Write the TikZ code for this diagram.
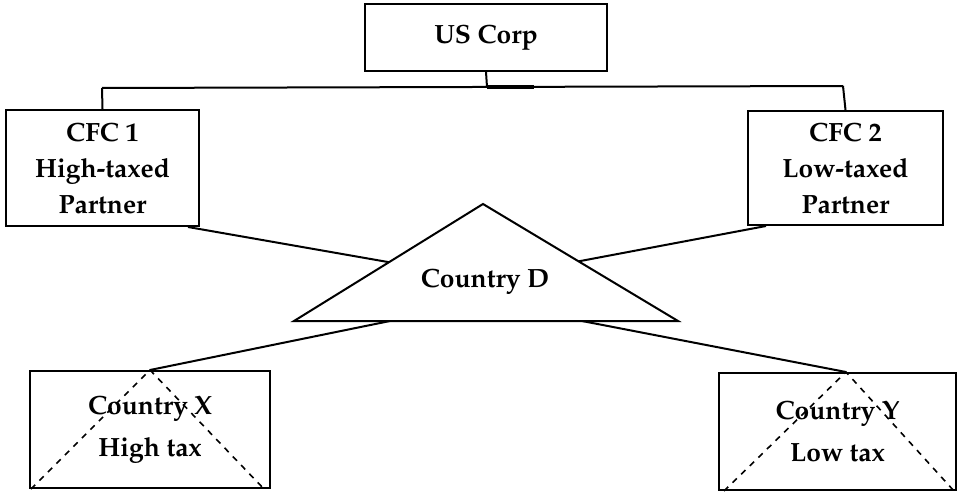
\documentclass[tikz,border=0pt]{standalone}
\usepackage[T1]{fontenc}
\usepackage{mathpazo}
\usetikzlibrary{positioning, calc, backgrounds}

\tikzset{
  entitybox/.style={rectangle, draw=black, line width=1pt, inner sep=0pt, align=center, font=\fontsize{13.2}{18}\selectfont\bfseries},
  countrybox/.style={entitybox, font=\fontsize{13.2}{21}\selectfont\bfseries},
  link/.style={draw=black, line width=1pt},
}

\begin{document}
\begin{tikzpicture}[x=0.5pt, y=-0.5pt]
\useasboundingbox (0,0) rectangle (957,492);
  \node[entitybox, minimum width=121pt, minimum height=33.5pt] (uscorp) at (486,37.5) {US Corp};
\node[entitybox, minimum width=96.5pt, minimum height=58pt] (cfc1) at (102.5,168) {CFC 1\\High-taxed\\Partner};
\node[entitybox, minimum width=97.5pt, minimum height=57pt] (cfc2) at (845.5,168) {CFC 2\\Low-taxed\\Partner};
\node[countrybox, minimum width=120pt, minimum height=58.5pt] (countryx) at (150,429.5) {Country X\\High tax};
\node[countrybox, minimum width=118.5pt, minimum height=58.5pt] (countryy) at (837.5,431.5) {Country Y\\Low tax};
% ownership bus
\coordinate (bus_mid) at (487,87);
\coordinate (bus_left) at (102,88);
\coordinate (bus_right) at (843,86);
\path[link]
	(uscorp.south) -- (bus_mid)
	(bus_left) -- (bus_right)
	(bus_left) -- (cfc1.north)
	(bus_right) -- (cfc2.north)
;
\draw[line width=1.8pt] (bus_mid) -- ++(47,0);
% Country D
\coordinate (d_top) at (483,204);
\coordinate (d_left) at (294,321);
\coordinate (d_right) at (678,321);
\coordinate (d_centre) at (485,279);
\coordinate (d_base_left) at (390,321);
\coordinate (d_base_right) at (582,321);
\begin{scope}[on background layer]
\path[link]
	([xshift=-6pt]cfc1.south east) -- (d_centre)
	([xshift=9.5pt]cfc2.south west) -- (d_centre)
;
\end{scope}
\draw[link, fill=white] (d_top) -- (d_left) -- (d_right) -- cycle;
\node[font=\fontsize{13.2}{18}\selectfont\bfseries] (countryd) at (485,282) {Country D};
\path[link]
	(d_base_left) -- (countryx.north)
	(d_base_right) -- ([xshift=4.25pt]countryy.north)
;
% hybrid markers
\draw[dashed, line width=0.8pt] ([xshift=1pt]countryx.south west) -- (countryx.north) -- ([xshift=-3.5pt]countryx.south east);
\draw[dashed, line width=0.8pt] ([xshift=3pt]countryy.south west) -- ([xshift=4.25pt]countryy.north) -- ([xshift=-1.5pt]countryy.south east);
\end{tikzpicture}
\end{document}
